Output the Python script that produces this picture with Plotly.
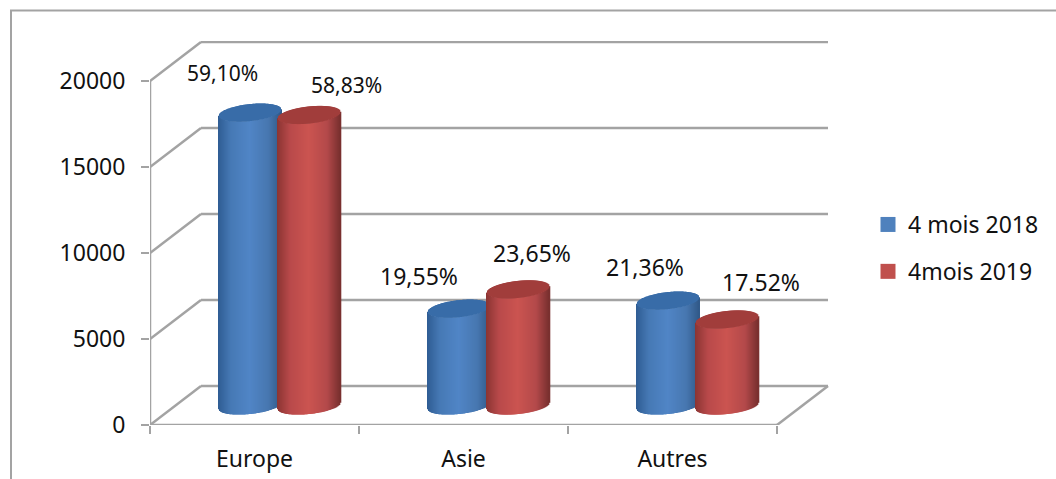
import math
import plotly.graph_objects as go

# ---- data ----
categories = ["Europe", "Asie", "Autres"]
series_names = ["4 mois 2018", "4mois 2019"]
values_2018 = [17060, 5660, 6130]
values_2019 = [16920, 6780, 5030]
labels_2018 = ["59,10%", "19,55%", "21,36%"]
labels_2019 = ["58,83%", "23,65%", "17.52%"]
y_ticks = [0, 5000, 10000, 15000, 20000]

# ---- layout geometry (pixels) ----
W, H = 1056, 479
X0, X_END, CAT_PX = 150, 830, 209
Y0, Y_TOP, PX_20K = 425, 41, 344
DEPTH_X, DEPTH_Y = 51, 39
HALF_W, TOP_B, BOT_B, TILT, BASE_PX = 31, 8.5, 8.0, 3.2, 19
STRIP_STEP = 1.0
SERIES_CENTER = [100, 159.5]        # px offset of cylinder axis inside a category
LABEL_PX = [
    [(222, 73), (419, 276), (645, 267)],
    [(346.5, 85), (532, 253), (761, 282)],
]
LABEL_SIZE = [[21, 23, 23], [21, 23, 23]]
GRAY = "#A3A3A3"
BLUE = [(-1, "#2F5D94"), (-0.6, "#4679B5"), (0, "#5085C6"), (0.6, "#4777B0"), (1, "#315A8A")]
RED = [(-1, "#8C3533"), (-0.6, "#B8494A"), (0, "#CB5450"), (0.6, "#B3494A"), (1, "#7A302F")]
TOP_COLORS = ["#386CA8", "#A13D3B"]
LEG_COLORS = ["#4F81BD", "#C0504D"]
FONT = "Noto Sans"
TEXT = "#111111"


def cx(px):
    return px / CAT_PX


def vy(px):
    return px / PX_20K * 20000


def hex_rgb(h):
    return tuple(int(h[i:i + 2], 16) for i in (1, 3, 5))


def shade(stops, u):
    for (a, ca), (b, cb) in zip(stops, stops[1:]):
        if a <= u <= b:
            t = (u - a) / (b - a)
            r = [round(p + (q - p) * t) for p, q in zip(hex_rgb(ca), hex_rgb(cb))]
            return f"rgb({r[0]},{r[1]},{r[2]})"
    return stops[-1][1]


def cylinder_trace(values, s_idx, stops, top_color):
    xs, bases, heights, colors = [], [], [], []
    n = int(2 * HALF_W / STRIP_STEP)
    base_v = vy(BASE_PX)
    for layer in ("body", "top"):
        for c_idx, value in enumerate(values):
            center_px = c_idx * CAT_PX + SERIES_CENTER[s_idx]
            for k in range(n + 1):
                u = -1 + 2 * k / n
                root = math.sqrt(max(0, 1 - u * u))
                top_bulge = vy(TOP_B * root)
                bot_bulge = vy(BOT_B * root)
                lean = vy(TILT * u)
                top_c = base_v + value + lean
                bot_c = base_v + lean
                xs.append(cx(center_px + u * HALF_W))
                if layer == "body":
                    lo = bot_c - bot_bulge
                    hi = top_c - top_bulge
                    colors.append(shade(stops, u))
                else:
                    lo = top_c - top_bulge
                    hi = top_c + top_bulge
                    colors.append(top_color)
                bases.append(lo)
                heights.append(hi - lo)
    return go.Bar(
        x=xs, y=heights, base=bases, width=cx(STRIP_STEP * 1.6),
        marker=dict(color=colors, line=dict(width=0)),
        showlegend=False, hoverinfo="skip",
    )


fig = go.Figure()
fig.add_trace(cylinder_trace(values_2018, 0, BLUE, TOP_COLORS[0]))
fig.add_trace(cylinder_trace(values_2019, 1, RED, TOP_COLORS[1]))

for i, name in enumerate(series_names):
    fig.add_trace(go.Scatter(
        x=[None], y=[None], mode="markers", name=name, legendgroup=name,
        marker=dict(symbol="square", size=15, color=LEG_COLORS[i]),
    ))

n_cat = len(categories)
dx, dy = cx(DEPTH_X), vy(DEPTH_Y)
shapes = []


def seg(x0, y0, x1, y1):
    shapes.append(dict(type="line", xref="x", yref="y", x0=x0, y0=y0, x1=x1, y1=y1,
                       layer="below", line=dict(color=GRAY, width=2.5)))


for v in y_ticks:
    seg(0, v, dx, v + dy)
    seg(dx, v + dy, n_cat + dx, v + dy)
seg(0, 0, 0, y_ticks[-1])
seg(0, 0, n_cat, 0)
seg(n_cat, 0, n_cat + dx, dy)
shapes.append(dict(type="path", xref="paper", yref="paper", layer="below",
                   path=f"M {-139/680} -0.2 L {-139/680} {(Y0-10.5)/(Y0-Y_TOP)} L {906/680} {(Y0-10.5)/(Y0-Y_TOP)}",
                   line=dict(color=GRAY, width=2)))

annotations = []
for s, labels in enumerate([labels_2018, labels_2019]):
    for c, text in enumerate(labels):
        px, py = LABEL_PX[s][c]
        annotations.append(dict(
            x=cx(px - X0), y=vy(Y0 - py), xref="x", yref="y", text=text, showarrow=False,
            xanchor="center", yanchor="middle",
            font=dict(family=FONT, size=LABEL_SIZE[s][c], color=TEXT),
        ))

fig.update_layout(
    width=W, height=H,
    margin=dict(l=X0, r=W - X_END, t=Y_TOP, b=H - Y0, pad=0, autoexpand=False),
    paper_bgcolor="white", plot_bgcolor="white",
    barmode="overlay", shapes=shapes, annotations=annotations,
    hovermode=False,
    legend=dict(x=(868 - X0) / (X_END - X0), xanchor="left", y=(Y0 - 203) / (Y0 - Y_TOP), yanchor="top",
                font=dict(family=FONT, size=23, color=TEXT), tracegroupgap=14,
                bgcolor="rgba(0,0,0,0)"),
    xaxis=dict(
        range=[0, (X_END - X0) / CAT_PX], showgrid=False, zeroline=False, showline=False,
        automargin=False,
        tickmode="array", tickvals=[i + 0.5 for i in range(n_cat)], ticktext=categories,
        ticks="", tickfont=dict(family=FONT, size=23, color=TEXT), ticklabelstandoff=18,
        minor=dict(tickmode="array", tickvals=list(range(n_cat + 1)), ticks="outside",
                   ticklen=8, tickwidth=2, tickcolor=GRAY, showgrid=False),
    ),
    yaxis=dict(
        range=[0, (Y0 - Y_TOP) / PX_20K * 20000], showgrid=False, zeroline=False, showline=False,
        automargin=False,
        tickmode="array", tickvals=y_ticks, ticktext=[str(v) for v in y_ticks],
        ticks="outside", ticklen=8, tickwidth=2, tickcolor=GRAY,
        tickfont=dict(family=FONT, size=23, color=TEXT), ticklabelstandoff=11,
    ),
)

fig.write_html("out.html", config=dict(displayModeBar=False),
               post_script="document.body.style.margin='0';")
